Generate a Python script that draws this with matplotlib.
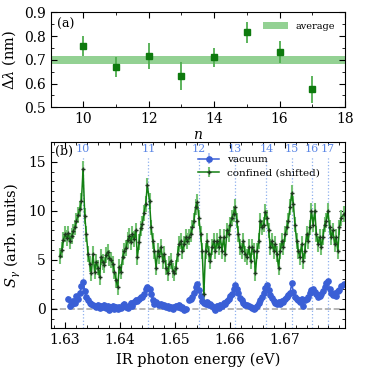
import numpy as np
import matplotlib
matplotlib.use("Agg")
import matplotlib.pyplot as plt

# --- (a) peak spacing per harmonic order ---
n_order = [10, 11, 12, 13, 14, 15, 16, 17]
delta_lambda = [0.760, 0.668, 0.716, 0.632, 0.710, 0.816, 0.732, 0.575]
delta_lambda_err = [0.042, 0.042, 0.056, 0.060, 0.040, 0.045, 0.047, 0.058]
avg_low, avg_high = 0.684, 0.717

# --- (b) spectra ---
energy = [
    1.6291, 1.6294, 1.6297, 1.6300, 1.6303, 1.6306, 1.6309, 1.6312, 1.6315, 1.6318,
    1.6321, 1.6324, 1.6327, 1.6330, 1.6333, 1.6336, 1.6339, 1.6342, 1.6345, 1.6348,
    1.6351, 1.6354, 1.6357, 1.6360, 1.6363, 1.6366, 1.6369, 1.6372, 1.6375, 1.6378,
    1.6381, 1.6384, 1.6387, 1.6390, 1.6393, 1.6396, 1.6399, 1.6402, 1.6405, 1.6408,
    1.6411, 1.6414, 1.6417, 1.6420, 1.6423, 1.6426, 1.6429, 1.6432, 1.6435, 1.6438,
    1.6441, 1.6444, 1.6447, 1.6450,
    1.6454, 1.6457, 1.6460, 1.6463, 1.6466, 1.6469, 1.6472, 1.6475, 1.6478, 1.6481,
    1.6484, 1.6487, 1.6490, 1.6493, 1.6496, 1.6499, 1.6502, 1.6505, 1.6508, 1.6511,
    1.6514, 1.6517, 1.6520, 1.6523, 1.6526, 1.6529, 1.6532, 1.6535, 1.6538, 1.6541,
    1.6544, 1.6547, 1.6550, 1.6553, 1.6556, 1.6559, 1.6562, 1.6565, 1.6568, 1.6571,
    1.6574, 1.6577, 1.6580, 1.6583, 1.6586, 1.6589, 1.6592, 1.6595, 1.6598, 1.6601,
    1.6604, 1.6607, 1.6610, 1.6613, 1.6616, 1.6619, 1.6622, 1.6625, 1.6628,
    1.6632, 1.6635, 1.6638, 1.6641, 1.6644, 1.6647, 1.6650, 1.6653, 1.6656, 1.6659,
    1.6662, 1.6665, 1.6668, 1.6671, 1.6674, 1.6677, 1.6680, 1.6683, 1.6686, 1.6689,
    1.6692, 1.6695, 1.6698, 1.6701, 1.6704, 1.6707, 1.6710, 1.6713, 1.6716, 1.6719,
    1.6722, 1.6725, 1.6728, 1.6731, 1.6734, 1.6737, 1.6740, 1.6743, 1.6746, 1.6749,
    1.6752, 1.6755, 1.6758, 1.6761, 1.6764, 1.6767, 1.6770, 1.6773, 1.6776, 1.6779,
    1.6782, 1.6785, 1.6788, 1.6791, 1.6794, 1.6797, 1.6800, 1.6803, 1.6809,
]

confined = [
    5.4, 6.0, 7.0, 7.6, 7.2, 7.7, 6.9, 7.4, 7.9, 8.3,
    9.0, 9.6, 10.2, 11.0, 14.3, 9.5, 7.6, 5.6, 4.6, 3.6,
    5.6, 3.8, 4.8, 4.2, 3.2, 5.3, 4.8, 4.5, 5.5, 5.8,
    5.2, 5.0, 4.6, 3.8, 2.9, 2.2, 4.3, 3.8, 5.3, 5.9,
    6.2, 7.0, 7.4, 6.8, 7.6, 7.1, 8.0, 5.3, 6.8, 8.2,
    8.7, 9.8, 10.7, 12.6,
    11.0, 8.3, 6.9, 5.9, 4.2, 5.9, 5.4, 6.3, 4.9, 5.6,
    4.2, 3.6, 4.6, 4.9, 3.9, 3.6, 4.2, 5.6, 6.6, 6.9,
    5.9, 6.6, 7.3, 6.9, 7.3, 7.6, 8.3, 9.0, 10.4, 10.9,
    9.3, 7.6, 5.9, 1.5, 5.9, 6.9, 5.6, 4.9, 6.3, 6.9,
    5.9, 6.9, 6.3, 7.3, 5.9, 7.3, 5.6, 8.0, 7.6, 8.6,
    9.3, 9.7, 10.4, 9.0, 7.6, 6.3, 5.9, 6.9, 5.6,
    5.3, 6.3, 4.9, 6.3, 5.9, 3.6, 5.9, 6.9, 9.0, 8.3,
    8.6, 9.9, 9.3, 8.0, 6.3, 6.9, 5.9, 6.6, 5.6, 4.2,
    5.9, 6.9, 6.3, 7.6, 8.3, 9.0, 10.4, 11.8, 10.7, 8.6,
    6.9, 5.9, 5.3, 6.6, 4.9, 5.9, 7.6, 6.9, 8.3, 10.0,
    8.6, 10.0, 7.6, 6.6, 7.3, 6.3, 7.3, 8.6, 9.0, 10.0,
    8.3, 7.3, 8.0, 6.6, 7.3, 5.9, 8.3, 9.3, 9.7,
]

nan = np.nan
vacuum = [
    nan, nan, nan, nan, nan, 1.0, 0.3, 0.5, 0.8, 0.6,
    1.3, 1.0, 1.6, 2.3, 2.7, 1.8, 1.2, 0.9, 0.6, 0.5,
    0.4, 0.3, 0.2, 0.4, 0.1, 0.3, 0.2, 0.4, 0.1, 0.3,
    -0.1, 0.2, 0.3, 0.0, 0.2, 0.0, 0.2, 0.1, 0.4, 0.5,
    0.2, 0.1, 0.3, 0.6, 0.3, 0.7, 0.9, 0.8, 1.0, 1.2,
    1.2, 1.5, 2.0, 2.2,
    2.0, 1.5, 0.9, 0.5, 0.7, 0.5, 0.4, 0.5, 0.3, 0.4,
    0.2, 0.3, 0.1, 0.2, 0.0, 0.2, 0.3, 0.2, 0.4, 0.1,
    0.2, -0.1, 0.0, nan, 0.9, 1.0, 1.2, 1.6, 2.2, 2.5,
    1.9, 1.3, 0.8, 0.6, 0.5, 0.7, 0.4, 0.5, 0.3, 0.1,
    -0.1, 0.3, 0.1, 0.4, 0.3, 0.6, 0.5, 0.8, 1.0, 1.3,
    1.5, 2.0, 2.4, 2.0, 1.6, 1.1, 0.9, 0.6, 0.4,
    0.4, 0.3, 0.2, 0.1, 0.0, 0.1, 0.3, 0.6, 0.9, 1.2,
    1.6, 2.1, 2.4, 1.9, 1.4, 1.1, 0.8, 0.6, 0.5, 0.7,
    0.5, 0.8, 0.7, 1.0, 1.2, 1.4, 1.6, 2.6, 1.7, 1.2,
    1.0, 0.9, 0.7, 1.0, 0.3, 0.9, 1.0, 1.2, 1.6, 1.9,
    2.0, 1.7, 1.5, 1.2, 1.3, 1.5, 1.8, 2.2, 2.6, 2.8,
    2.0, 1.6, 1.4, 1.6, 1.3, 1.8, 1.9, 2.3, 2.5,
]
confined_err = 0.8
vacuum_err = 0.25

# harmonic positions marked on top of panel (b)
n_labels = ["10", "11", "12", "13", "14", "15", "16", "17"]
n_energy = [1.6333, 1.6452, 1.6544, 1.6609, 1.6667, 1.6714, 1.6750, 1.6779]

plt.rcParams['font.family'] = ['DejaVu Serif']
plt.rcParams['mathtext.fontset'] = 'dejavuserif'
plt.rcParams['font.size'] = 10

fig = plt.figure(figsize=(3.66, 3.70), dpi=100)
ax1 = fig.add_axes([0.1385, 0.710, 0.804, 0.2568])
ax2 = fig.add_axes([0.1385, 0.1127, 0.804, 0.5027])

# --- (a) ---
ax1.axhspan(avg_low, avg_high, color='#93d193', lw=0, label='average')
ax1.errorbar(n_order, delta_lambda, yerr=delta_lambda_err, fmt='s', color='#0e7a0e',
             ecolor='#4fae4f', markersize=5, elinewidth=1.3, capsize=0)
ax1.set_xlim(9, 18)
ax1.set_ylim(0.5, 0.9)
ax1.set_xticks([10, 12, 14, 16, 18])
ax1.set_xticks([9, 11, 13, 15, 17], minor=True)
ax1.set_yticks([0.5, 0.6, 0.7, 0.8, 0.9])
ax1.set_yticks(np.arange(0.55, 0.9, 0.1), minor=True)
ax1.set_xlabel(r'$n$', labelpad=1)
ax1.set_ylabel(r'$\Delta\lambda$ (nm)', fontsize=10.5)
ax1.legend(loc='upper right', frameon=False, fontsize=7, handlelength=2.6,
           borderaxespad=0.6)
ax1.text(0.02, 0.94, '(a)', transform=ax1.transAxes, fontsize=9, va='top')

# --- (b) ---
ax2.axhline(0, color='#aaaaaa', linestyle='--', linewidth=1.2, zorder=0)
ax2.vlines(n_energy, -2, 15.6, colors='#8fb0ee', linestyles=':', linewidth=0.9, zorder=0)
for lab, e in zip(n_labels, n_energy):
    ax2.text(e, 16.8, lab, color='#5b86e5', fontsize=8, ha='center', va='top')

ax2.errorbar(energy, vacuum, yerr=vacuum_err, fmt='-o', color='#3a5fd6',
             ecolor='#a9bdf2', markersize=3.8, linewidth=1.1, elinewidth=1.2,
             capsize=0, label='vacuum')
ax2.errorbar(energy, confined, yerr=confined_err, fmt='-', color='#138013',
             ecolor='#74c274', marker='+', mec='#1f3a1f', markersize=3,
             linewidth=1.1, elinewidth=1.5, capsize=0, label='confined (shifted)')

ax2.set_xlim(1.6274, 1.681)
ax2.set_ylim(-2, 17)
ax2.set_xticks([1.63, 1.64, 1.65, 1.66, 1.67])
ax2.set_xticks(np.arange(1.628, 1.681, 0.002), minor=True)
ax2.set_yticks([0, 5, 10, 15])
ax2.set_yticks(np.arange(-2, 17.1, 1), minor=True)
ax2.set_xlabel('IR photon energy (eV)', fontsize=10.5)
ax2.set_ylabel(r'$S_\gamma$ (arb. units)', fontsize=10.5)
ax2.legend(loc='upper left', bbox_to_anchor=(0.48, 0.965), frameon=False,
           fontsize=7.5, handlelength=2.0, borderaxespad=0.2, labelspacing=0.4)
ax2.text(0.015, 0.985, '(b)', transform=ax2.transAxes, fontsize=9, va='top')

for ax in (ax1, ax2):
    ax.tick_params(which='both', direction='in', top=True, right=True)
    ax.tick_params(which='major', length=4)
    ax.tick_params(which='minor', length=2)

plt.savefig('out.png', dpi=100)
